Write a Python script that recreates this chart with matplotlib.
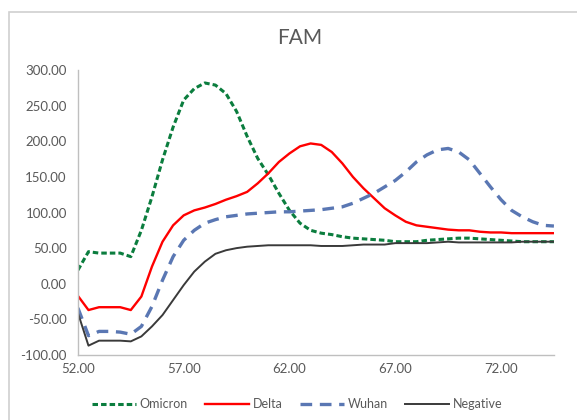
import matplotlib.pyplot as plt
from matplotlib.patches import Rectangle

temps = [52.0, 52.5, 53.0, 53.5, 54.0, 54.5, 55.0, 55.5, 56.0, 56.5,
         57.0, 57.5, 58.0, 58.5, 59.0, 59.5, 60.0, 60.5, 61.0, 61.5,
         62.0, 62.5, 63.0, 63.5, 64.0, 64.5, 65.0, 65.5, 66.0, 66.5,
         67.0, 67.5, 68.0, 68.5, 69.0, 69.5, 70.0, 70.5, 71.0, 71.5,
         72.0, 72.5, 73.0, 73.5, 74.0, 74.5]

omicron = [19, 45, 43, 43, 43, 38, 75, 122, 174, 220,
           258, 274, 282, 279, 267, 242, 207, 176, 153, 127,
           103, 85, 75, 71, 69, 66, 64, 63, 62, 61,
           59, 59, 59, 61, 62, 63, 64, 64, 63, 62,
           61, 60, 59, 59, 59, 59]
delta = [-17, -37, -33, -33, -33, -37, -18, 24, 59, 82,
         96, 103, 107, 112, 118, 123, 129, 141, 155, 171,
         183, 193, 197, 195, 185, 169, 150, 134, 120, 106,
         96, 87, 82, 80, 78, 76, 75, 75, 73, 72,
         72, 71, 71, 71, 71, 71]
wuhan = [-34, -73, -67, -67, -68, -71, -60, -32, 5, 38,
         61, 75, 85, 90, 94, 96, 98, 99, 100, 101,
         101, 102, 103, 104, 106, 108, 113, 120, 127, 136,
         145, 157, 171, 181, 188, 190, 185, 174, 155, 136,
         118, 103, 94, 87, 82, 81]
negative = [-41, -87, -80, -80, -80, -81, -74, -60, -44, -23,
            -2, 17, 31, 42, 47, 50, 52, 53, 54, 54,
            54, 54, 54, 53, 53, 53, 54, 55, 55, 55,
            57, 57, 57, 57, 58, 59, 58, 58, 58, 58,
            58, 58, 59, 59, 59, 59]

x_ticks = [52, 57, 62, 67, 72]
y_ticks = [-100, -50, 0, 50, 100, 150, 200, 250, 300]

plt.rcParams['font.family'] = ['Lato', 'DejaVu Sans']
grey = '#595959'

fig = plt.figure(figsize=(5.77, 4.2), dpi=100)
ax = fig.add_axes([0.135, 0.155, 0.825, 0.678])

# chart frame (cropped on right and bottom)
fig.patches.append(Rectangle((0.0156, -0.1), 1.2, 1.071, transform=fig.transFigure,
                             fill=False, edgecolor='#d0d0d0', linewidth=1.2))

ax.plot(temps, omicron, color='#0b7d3e', linewidth=2.2, linestyle=(0, (1.8, 1.0)), label='Omicron')
ax.plot(temps, delta, color='#ff0000', linewidth=1.7, label='Delta')
ax.plot(temps, wuhan, color='#5a77b3', linewidth=2.4, linestyle=(0, (3.5, 2.3)), label='Wuhan')
ax.plot(temps, negative, color='#3a3a3a', linewidth=1.4, label='Negative')

ax.set_xlim(52, 74.5)
ax.set_ylim(-100, 300)
ax.set_xticks(x_ticks)
ax.set_xticklabels([f"{t:.2f}" for t in x_ticks])
ax.set_yticks(y_ticks)
ax.set_yticklabels([f"{t:.2f}" for t in y_ticks])
ax.tick_params(length=0, labelsize=9.5, colors=grey)
ax.tick_params(axis='y', pad=8)
ax.tick_params(axis='x', pad=6)
for side in ['top', 'right']:
    ax.spines[side].set_visible(False)
for side in ['left', 'bottom']:
    ax.spines[side].set_color('#bfbfbf')
    ax.spines[side].set_linewidth(1.0)

fig.text(0.52, 0.91, "FAM", ha='center', va='center', fontsize=15, color=grey)

leg = fig.legend(loc='center', bbox_to_anchor=(0.515, 0.038), ncol=4, frameon=False,
                 fontsize=9, handlelength=3.5, handletextpad=0.3, columnspacing=1.4)
for t in leg.get_texts():
    t.set_color(grey)

fig.savefig('out.png', dpi=100)
